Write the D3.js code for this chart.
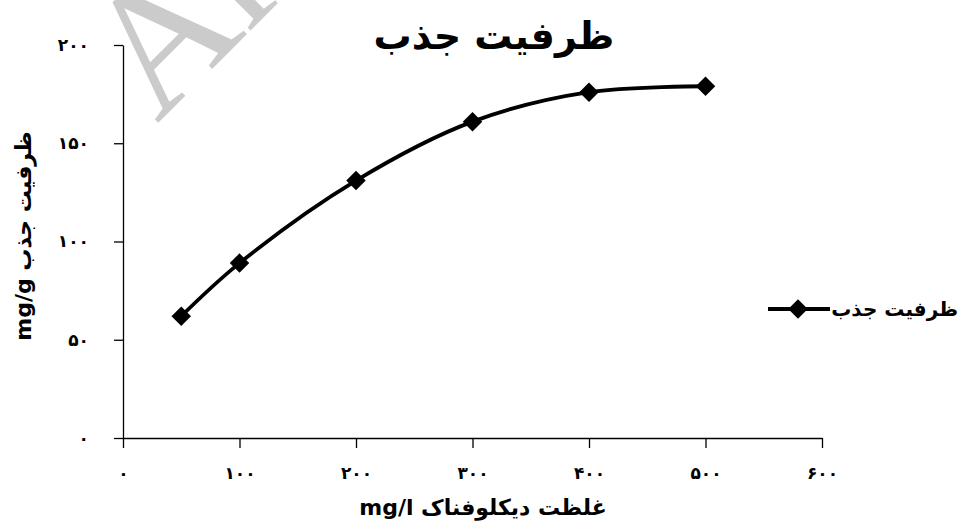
<!DOCTYPE html>
<html><head><meta charset="utf-8">
<script src="https://cdn.jsdelivr.net/npm/d3@7"></script>
<style>
body{margin:0;background:#fff;}
svg{display:block;}
text{font-family:"DejaVu Sans",sans-serif;}
</style></head>
<body>
<svg id="c" width="960" height="521"></svg>
<script>
const concentrations = [50, 100, 200, 300, 400, 500];
const capacity = [62, 89, 131, 161, 176, 179];
const xTicks = [0, 100, 200, 300, 400, 500, 600];
const yTicks = [0, 50, 100, 150, 200];
const seriesName = "ظرفیت جذب";
const titleText = "ظرفیت جذب";
const xLabel = "غلظت دیکلوفناک mg/l";
const yLabel = "ظرفیت جذب mg/g";
const watermark = "Archive of SID";

const fa = n => String(n).replace(/[0-9]/g, d => "۰۱۲۳۴۵۶۷۸۹"[+d]);

const svg = d3.select("#c");

// watermark
svg.append("text")
  .attr("transform", "translate(157,124) rotate(-45)")
  .style("font-family", "'Liberation Serif', serif")
  .attr("font-size", 178)
  .attr("fill", "#cbcbcb")
  .text(watermark);

const x = d3.scaleLinear().domain([0, 600]).range([123, 822]);
const y = d3.scaleLinear().domain([0, 200]).range([438, 45]);

const xAxis = svg.append("g").attr("transform", "translate(0,438)")
  .call(d3.axisBottom(x).tickValues(xTicks).tickFormat(fa).tickSize(10).tickSizeOuter(0).tickPadding(19));
const yAxis = svg.append("g").attr("transform", "translate(123,0)")
  .call(d3.axisLeft(y).tickValues(yTicks).tickFormat(fa).tickSize(9).tickSizeOuter(0).tickPadding(25));

[xAxis, yAxis].forEach(g => {
  g.select(".domain").attr("stroke", "#000").attr("stroke-width", 1.3);
  g.selectAll(".tick line").attr("stroke", "#000").attr("stroke-width", 1.3);
  g.selectAll(".tick text").attr("fill", "#000").attr("font-size", 17).attr("font-weight", "bold")
    .style("font-family", "'DejaVu Sans',sans-serif");
});

const pts = concentrations.map((c, i) => [x(c), y(capacity[i])]);
svg.append("path")
  .attr("d", d3.line().curve(d3.curveCatmullRom.alpha(0.5))(pts))
  .attr("fill", "none").attr("stroke", "#000").attr("stroke-width", 3.8);

const diamond = d3.symbol().type(d3.symbolSquare).size(190);
svg.selectAll(".pt").data(pts).enter().append("path")
  .attr("class", "pt")
  .attr("d", diamond)
  .attr("transform", d => `translate(${d[0]},${d[1]}) rotate(45)`)
  .attr("fill", "#000");

// title
svg.append("text").attr("x", 494).attr("y", 49).attr("text-anchor", "middle")
  .attr("direction", "rtl")
  .attr("font-size", 38).attr("font-weight", "bold").text(titleText);

// axis labels
svg.append("text").attr("x", 483).attr("y", 515).attr("text-anchor", "middle")
  .attr("direction", "rtl")
  .attr("font-size", 22).attr("font-weight", "bold").text(xLabel);
svg.append("text").attr("transform", "translate(31,236) rotate(-90)").attr("text-anchor", "middle")
  .attr("direction", "rtl")
  .attr("font-size", 22).attr("font-weight", "bold").text(yLabel);

// legend
const lg = svg.append("g");
lg.append("line").attr("x1", 768).attr("x2", 830).attr("y1", 309).attr("y2", 309)
  .attr("stroke", "#000").attr("stroke-width", 3.8);
lg.append("path").attr("d", diamond).attr("transform", "translate(798,309) rotate(45)").attr("fill", "#000");
lg.append("text").attr("x", 958).attr("y", 316).attr("text-anchor", "start").attr("direction", "rtl")
  .attr("font-size", 20).attr("font-weight", "bold").text(seriesName);
</script>
</body></html>
